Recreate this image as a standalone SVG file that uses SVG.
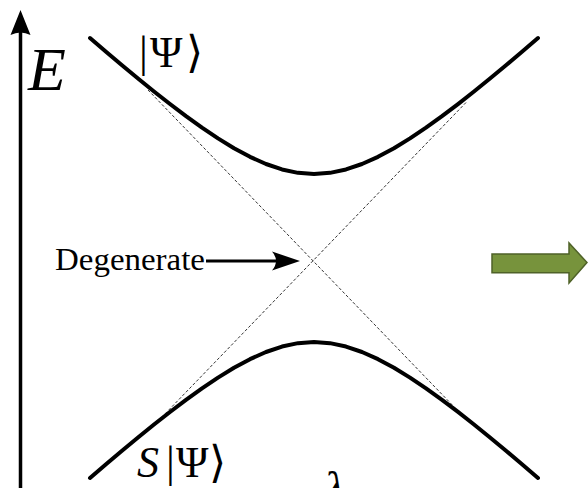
<svg xmlns="http://www.w3.org/2000/svg" width="588" height="488" viewBox="0 0 588 488">
<style>
.curve{fill:none;stroke:#000;stroke-width:4;stroke-linecap:round;stroke-linejoin:round}
.asym{fill:none;stroke:#333;stroke-width:1;stroke-dasharray:3 2}
.tx{font-family:"Liberation Serif","DejaVu Serif","DejaVu Sans",serif;fill:#000}
.it{font-style:italic}
</style>
<rect width="588" height="488" fill="#fff"/>
<g id="axis">
<line x1="20.5" y1="488" x2="20.5" y2="28" stroke="#000" stroke-width="3.5"/>
<path d="M20.5,10 L30.5,35 Q20.5,30 10.5,35 Z" fill="#000"/>
<text class="tx it" x="28" y="90" font-size="62">E</text>
</g>
<g id="asymptotes">
<line class="asym" x1="148" y1="90" x2="460" y2="413"/>
<line class="asym" x1="466" y1="102.5" x2="162" y2="417"/>
</g>
<g id="upper-branch">
<path class="curve" d="M90,38 L106,51.74 L122,65.26 L138,78.53 L154,91.48 L170,104.05 L186,116.14 L202,127.63 L218,138.38 L234,148.19 L250,156.82 L266,164.01 L282,169.44 L298,172.84 L314,174 L330,172.84 L346,169.44 L362,164.01 L378,156.82 L394,148.19 L410,138.38 L426,127.63 L442,116.14 L458,104.05 L474,91.48 L490,78.53 L506,65.26 L522,51.74 L538,38"/>
<text class="tx" y="67" font-size="44"><tspan x="139">|</tspan><tspan x="150">Ψ</tspan><tspan x="186">⟩</tspan></text>
</g>
<g id="lower-branch">
<path class="curve" d="M90,478 L106,464.26 L122,450.74 L138,437.47 L154,424.52 L170,411.95 L186,399.86 L202,388.37 L218,377.62 L234,367.81 L250,359.18 L266,351.99 L282,346.56 L298,343.16 L314,342 L330,343.16 L346,346.56 L362,351.99 L378,359.18 L394,367.81 L410,377.62 L426,388.37 L442,399.86 L458,411.95 L474,424.52 L490,437.47 L506,450.74 L522,464.26 L538,478"/>
<text class="tx" y="477" font-size="44"><tspan class="it" x="137">S</tspan><tspan x="166">|</tspan><tspan x="176">Ψ</tspan><tspan x="209">⟩</tspan></text>
</g>
<g id="degenerate">
<text class="tx" x="55" y="270" font-size="31" textLength="150" lengthAdjust="spacingAndGlyphs">Degenerate</text>
</g>
<g id="connectors">
<line x1="206" y1="261" x2="285" y2="261" stroke="#000" stroke-width="3"/>
<path d="M300,261 L272,251.5 Q280,261 272,270.5 Z" fill="#000"/>
</g>
<g id="lambda">
<text class="tx it" x="324" y="505" font-size="48">λ</text>
</g>
<g id="green-arrow">
<path d="M492,254 L569,254 L569,243 L587,262.5 L569,283 L569,272.7 L492,272.7 Z" fill="#77933c" stroke="#4f6228" stroke-width="1.5" stroke-linejoin="miter"/>
</g>
</svg>
